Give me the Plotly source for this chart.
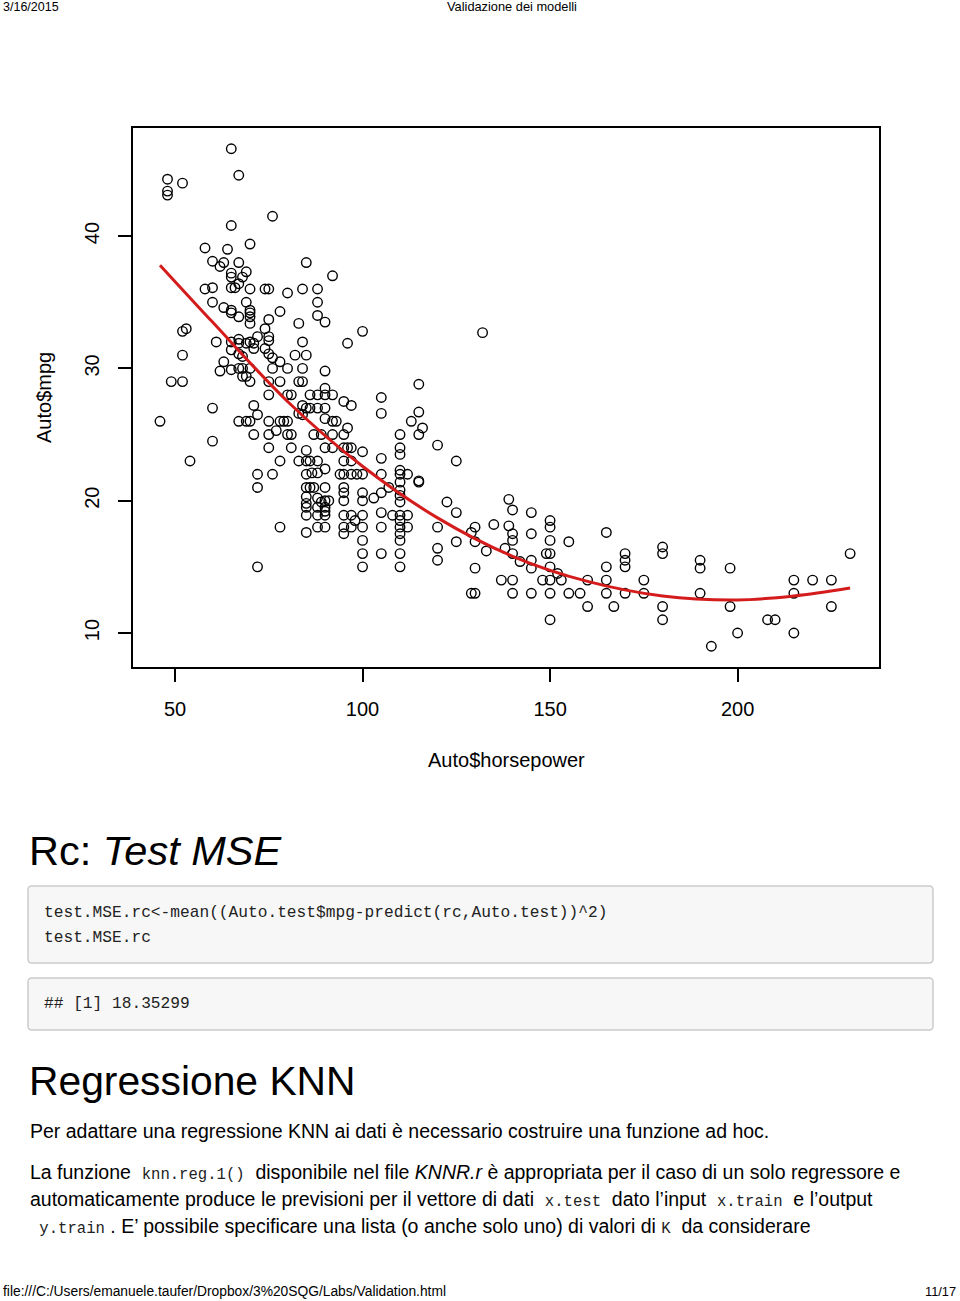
import plotly.graph_objects as go

# ---------------- data ----------------
hp = [46, 48, 48, 48, 52, 52, 53, 52, 49, 52, 54, 60, 60, 65, 67, 76, 65, 58, 64, 70,
      60, 62, 63, 67, 65, 65, 69, 68, 67, 66, 58, 60, 65, 70, 74, 75, 80, 84, 85, 60,
      63, 65, 65, 67, 69, 70, 70, 70, 70, 75, 78, 83, 61, 65, 67, 67, 69, 70, 71, 72,
      74, 75, 75, 84, 65, 67, 68, 71, 74, 75, 76, 78, 82, 85, 63, 62, 65, 67, 68, 70,
      68, 69, 76, 80, 84, 70, 75, 78, 83, 84, 75, 80, 81,
      71, 72, 67, 69, 70, 75, 78, 79, 80, 77, 71, 75, 80, 81, 75, 81, 78, 83, 72, 76,
      72, 78, 72, 84, 85, 85, 85, 85, 85, 85, 85, 85, 85, 85,
      92, 88, 88, 88, 90, 100, 96, 90, 90, 86, 88, 90, 92, 95, 97, 105, 115, 105, 115, 113,
      116, 86, 88, 90, 90, 92, 93, 96, 83, 84,
      87, 89, 92, 95, 110, 115, 90, 92, 95, 96, 97, 100, 110, 110, 120, 105, 86, 88, 95, 97,
      125, 86.5, 90, 88, 94, 95, 97, 98.5, 100, 105, 110, 110, 112, 115, 115, 110,
      86, 87, 90, 95, 95, 107, 105, 110, 110, 88, 89, 90, 91, 95, 100, 100, 103,
      110, 122.5, 88, 90, 90, 125, 88, 90, 95, 97, 100, 105, 108, 110, 112, 110, 98,
      88, 90, 95, 97, 100, 105, 110, 112, 120, 95, 110, 110, 125, 100, 120, 120, 100, 105, 110,
      100, 110,
      132, 139, 140, 145, 135, 129, 130, 130, 139, 140, 140, 145, 150, 150, 150, 155, 165, 133, 138, 140,
      142, 145, 145, 149, 150, 150, 152, 130, 137, 140, 148, 150, 153, 160, 165, 165, 170, 170, 170, 129,
      130, 140, 145, 150, 155, 158, 165, 170, 160, 167, 150,
      175, 175, 180, 180, 180, 180, 190, 190, 190, 198, 198, 200, 193, 208, 210, 215, 215, 215, 220, 225,
      225, 230]
mpg = [26, 44.3, 43.4, 43.1, 44, 32.8, 33, 31, 29, 29, 23, 27, 24.5, 46.6, 44.6, 41.5, 40.8, 39.1, 39, 39.4,
       38.1, 37.7, 38, 38, 37.2, 36.9, 37.3, 36.9, 36.4, 36.1, 36, 36.1, 36.1, 36, 36, 36, 35.7, 36, 38, 35,
       34.6, 34.4, 34.2, 33.9, 35, 34.4, 34.2, 33.9, 33.4, 33.7, 34.3, 33.4, 32, 32, 32.2, 31.9, 31.9, 32, 31.9, 32.4,
       33, 32.4, 32.1, 32, 31.4, 31.1, 30.9, 31.5, 31.5, 31.1, 30.8, 30.5, 31, 31, 30.5, 29.8, 29.9, 30, 30, 30,
       29.4, 29.4, 30, 30, 30, 29, 29, 29, 29, 29, 28, 28, 28,
       27.2, 26.5, 26, 26, 26, 26, 26, 26, 26, 25.3, 25, 25, 25, 25, 24, 24, 23, 23, 22, 22,
       21, 18, 15, 27.2, 27, 23.8, 23, 22, 21, 20.3, 19.8, 18.9, 17.6, 19.5,
       37, 36, 35, 34, 33.5, 32.8, 31.9, 29.8, 28.5, 28, 28, 28, 28, 27.5, 27.2, 27.8, 28.8, 26.6, 26.7, 26,
       25.5, 27, 27, 27, 26.2, 26, 26, 25.5, 26.6, 26.5,
       25, 25, 25, 25, 25, 25, 24, 24, 24, 24, 24, 23.7, 24, 23.5, 24.2, 23.2, 23, 23, 23, 23,
       23, 22.1, 22.4, 22.1, 22, 22, 22, 22, 22, 22, 22.3, 22, 22, 21.5, 21.4, 21.4,
       21, 21, 21, 21, 20.6, 21, 20.6, 20.8, 20.4, 20.2, 19.9, 20, 20, 20, 20.6, 20, 20.2,
       19.9, 19.9, 19.5, 19.5, 19.2, 19.1, 18.9, 18.9, 18.9, 18.9, 18.9, 19.1, 18.9, 18.9, 18.9, 18.5, 18.5,
       18, 18, 18, 18, 18, 18, 18, 18, 18, 17.5, 17.5, 17, 16.9, 17, 16.4, 15.5, 16, 16, 16,
       15, 15,
       32.7, 20.1, 19.3, 19.1, 18.2, 17.6, 18, 16.9, 18.1, 17.5, 17, 17.5, 18.5, 18, 17, 16.9, 17.6, 16.2, 16.4, 16,
       15.4, 15.5, 14.9, 16, 16, 15, 14.5, 14.9, 14, 14, 14, 14, 14, 14, 14, 15, 16, 15.5, 15, 13,
       13, 13, 13, 13, 13, 13, 13, 13, 12, 12, 11,
       14, 13, 16.5, 16, 12, 11, 15.5, 14.9, 13, 14.9, 12, 10, 9, 11, 11, 14, 13, 10, 14, 14,
       12, 16]

fit_hp = [46, 60, 80, 100, 120, 140, 160, 180, 200, 215, 230]
fit_mpg = [37.8, 33.5, 27.5, 22.6, 18.7, 15.8, 13.9, 12.8, 12.5, 12.8, 13.4]

x_ticks = [50, 100, 150, 200]
y_ticks = [10, 20, 30, 40]

W, H = 960, 1301


def px(x):
    return x / W


def py(y):
    return 1 - y / H


fig = go.Figure()
fig.add_trace(go.Scatter(
    x=hp, y=mpg, mode="markers",
    marker=dict(symbol="circle-open", size=9.5, color="black", line=dict(width=1.4, color="black")),
    showlegend=False, hoverinfo="skip"))
fig.add_trace(go.Scatter(
    x=fit_hp, y=fit_mpg, mode="lines", line=dict(color="#d41c1c", width=3, shape="spline", smoothing=1.0),
    showlegend=False, hoverinfo="skip"))

axis_font = dict(family="Liberation Sans, Arial, sans-serif", size=20, color="black")
fig.update_xaxes(
    domain=[px(133), px(879)], range=[38.8, 237.7],
    tickvals=x_ticks, ticktext=[str(v) for v in x_ticks],
    ticks="outside", ticklen=13, tickwidth=1.5, tickcolor="black",
    showline=True, mirror=True, linecolor="black", linewidth=1.5,
    showgrid=False, zeroline=False, tickfont=axis_font, ticklabelstandoff=10)
fig.update_yaxes(
    domain=[py(667), py(128)], range=[7.43, 48.17],
    tickvals=y_ticks, ticktext=[str(v) for v in y_ticks], tickangle=-90,
    ticks="outside", ticklen=13, tickwidth=1.5, tickcolor="black",
    showline=True, mirror=True, linecolor="black", linewidth=1.5,
    showgrid=False, zeroline=False, tickfont=axis_font, ticklabelstandoff=11)

ann = []

SANS = "Liberation Sans, Arial, sans-serif"
MONO = "Liberation Mono, DejaVu Sans Mono, monospace"


def text(x, y, s, size, family=SANS, xanchor="left", textangle=0, color="black"):
    ann.append(dict(x=px(x), y=py(y), xref="paper", yref="paper", text=s, showarrow=False,
                    xanchor=xanchor, yanchor="middle", textangle=textangle,
                    font=dict(family=family, size=size, color=color)))


# axis titles
text(506, 760, "Auto$horsepower", 20, xanchor="center")
text(44, 398, "Auto$mpg", 20, xanchor="center", textangle=-90)

# page header / footer
text(1, 7, "3/16/2015", 12.5)
text(512, 7, "Validazione dei modelli", 12.8, xanchor="center")
text(1, 1291, "file:///C:/Users/emanuele.taufer/Dropbox/3%20SQG/Labs/Validation.html", 13.8)
text(958, 1291, "11/17", 12.8, xanchor="right")

# headings
text(27, 850, "Rc: <i>Test MSE</i>", 41.5)
text(27, 1081, "Regressione KNN", 40.8)

# code blocks
text(42, 913, "test.MSE.rc&lt;-mean((Auto.test$mpg-predict(rc,Auto.test))^2)", 16.2, family=MONO, color="#222222")
text(42, 938, "test.MSE.rc", 16.2, family=MONO, color="#222222")
text(42, 1004, "## [1] 18.35299", 16.2, family=MONO, color="#222222")


def code(s):
    return "<span style=\"font-family:'Liberation Mono', monospace;font-size:15.6px;fill:#222222\">" + s + "</span>"


BODY = 19.5
text(28, 1131, "Per adattare una regressione KNN ai dati è necessario costruire una funzione ad hoc.", BODY)
text(28, 1172, "La funzione  " + code("knn.reg.1()") + "  disponibile nel file <i>KNNR.r</i> è appropriata per il caso di un solo regressore e", BODY)
text(28, 1199, "automaticamente produce le previsioni per il vettore di dati  " + code("x.test") + "  dato l’input  " + code("x.train") + "  e l’output", BODY)
text(28, 1226, code(" y.train") + " . E’ possibile specificare una lista (o anche solo uno) di valori di " + code("K") + "  da considerare", BODY)

shapes = []


def rbox(x0, y0, x1, y1, r=4):
    X0, X1 = px(x0), px(x1)
    Y0, Y1 = py(y0), py(y1)
    rx, ry = r / W, r / H
    path = (f"M {X0+rx},{Y0} L {X1-rx},{Y0} Q {X1},{Y0} {X1},{Y0-ry} L {X1},{Y1+ry} "
            f"Q {X1},{Y1} {X1-rx},{Y1} L {X0+rx},{Y1} Q {X0},{Y1} {X0},{Y1+ry} L {X0},{Y0-ry} "
            f"Q {X0},{Y0} {X0+rx},{Y0} Z")
    shapes.append(dict(type="path", path=path, xref="paper", yref="paper",
                       fillcolor="#f7f7f7", line=dict(color="#cccccc", width=1.5), layer="below"))


rbox(28, 886, 933, 963)
rbox(28, 978, 933, 1030)

fig.update_layout(width=W, height=H, margin=dict(l=0, r=0, t=0, b=0),
                  paper_bgcolor="white", plot_bgcolor="white",
                  annotations=ann, shapes=shapes)

fig.write_html("out.html", config={"displayModeBar": False},
               post_script="document.body.style.margin='0';document.body.style.overflow='hidden';")
